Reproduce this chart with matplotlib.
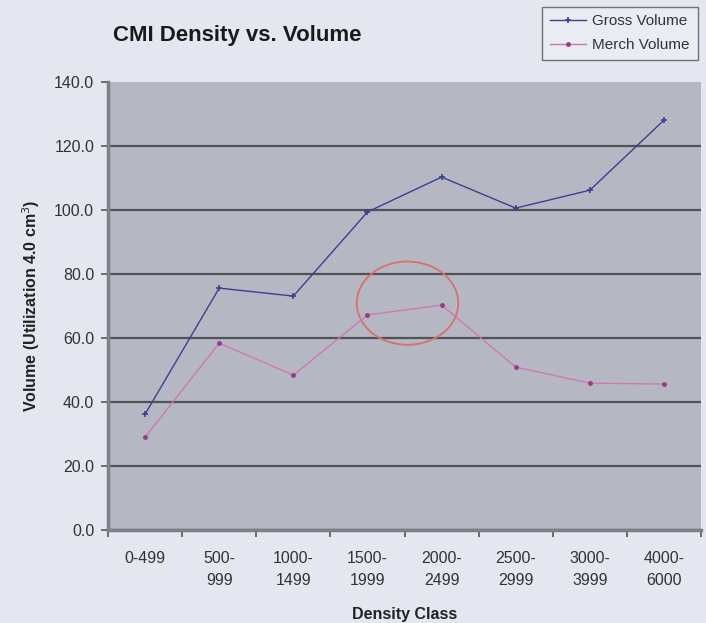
import matplotlib.pyplot as plt
from matplotlib.patches import Ellipse
import numpy as np

plt.rcParams['font.family'] = ['Liberation Sans', 'DejaVu Sans']

# Dados
classes = ["0-499", "500-\n999", "1000-\n1499", "1500-\n1999", "2000-\n2499",
           "2500-\n2999", "3000-\n3999", "4000-\n6000"]
gross_volume = [36.2, 75.6, 73.1, 99.4, 110.3, 100.6, 106.2, 128.1]
merch_volume = [29.0, 58.4, 48.4, 67.2, 70.3, 50.9, 45.9, 45.6]

fig = plt.figure(figsize=(7.06, 6.23), dpi=100, facecolor='#e4e6f0')
ax = fig.add_axes([0.1530, 0.1493, 0.8400, 0.719])
ax.set_facecolor('#b5b8c3')

x = np.arange(len(classes))
ax.plot(x, gross_volume, color='#3b4090', lw=1.0, marker='+', ms=5, mew=1.2,
        label='Gross Volume')
ax.plot(x, merch_volume, color='#cf78b4', lw=1.0, marker='.', ms=5,
        markerfacecolor='#9a3a8a', markeredgecolor='#9a3a8a', label='Merch Volume')

# circulo destacando 1500-2499
ax.add_patch(Ellipse((3.54, 70.9), 1.37, 26, fill=False, ec='#d8706a', lw=1.3))

ax.set_xlim(-0.5, len(classes) - 0.5)
ax.set_ylim(0, 140)
ax.set_yticks(np.arange(0, 141, 20))
ax.set_yticklabels([f"{v:.1f}" for v in np.arange(0, 141, 20)], fontsize=11.5, color='#333333')
ax.yaxis.grid(True, color='#505256', lw=1.6)
ax.get_ygridlines()[-1].set_visible(False)
ax.set_axisbelow(True)

ax.set_xticks(x)
ax.set_xticklabels(classes, fontsize=11.5, color='#333333', linespacing=1.6, va='top')
ax.tick_params(axis='x', length=0, pad=15)
ax.set_xticks(np.arange(-0.5, len(classes)), minor=True)
ax.tick_params(axis='x', which='minor', length=5, color='#555555', width=1.2)
ax.tick_params(axis='y', length=5, color='#555555', width=1.2, pad=5)

for s in ['top', 'right']:
    ax.spines[s].set_visible(False)
for s in ['left', 'bottom']:
    ax.spines[s].set_color('#7d8088')
    ax.spines[s].set_linewidth(2.5)

ax.set_xlabel("Density Class", fontsize=11.5, fontweight='bold', color='#222222', labelpad=14)
ax.set_ylabel("Volume (Utilization 4.0 cm$^3$)", fontsize=11.5, fontweight='bold',
              color='#222222', labelpad=9)

fig.text(0.160, 0.943, "CMI Density vs. Volume", fontsize=16, fontweight='bold',
         color='#1a1a1a', va='center')

leg = ax.legend(loc='upper right', bbox_to_anchor=(0.988, 0.989), bbox_transform=fig.transFigure,
                fontsize=11, frameon=True, fancybox=False, handlelength=2.4,
                borderpad=0.5, labelspacing=0.65, handletextpad=0.4, borderaxespad=0)
leg.get_frame().set_facecolor('#eceef5')
leg.get_frame().set_edgecolor('#555555')
leg.get_frame().set_linewidth(1.0)
for t in leg.get_texts():
    t.set_color('#333333')

plt.savefig("out.png", dpi=100, facecolor=fig.get_facecolor())
